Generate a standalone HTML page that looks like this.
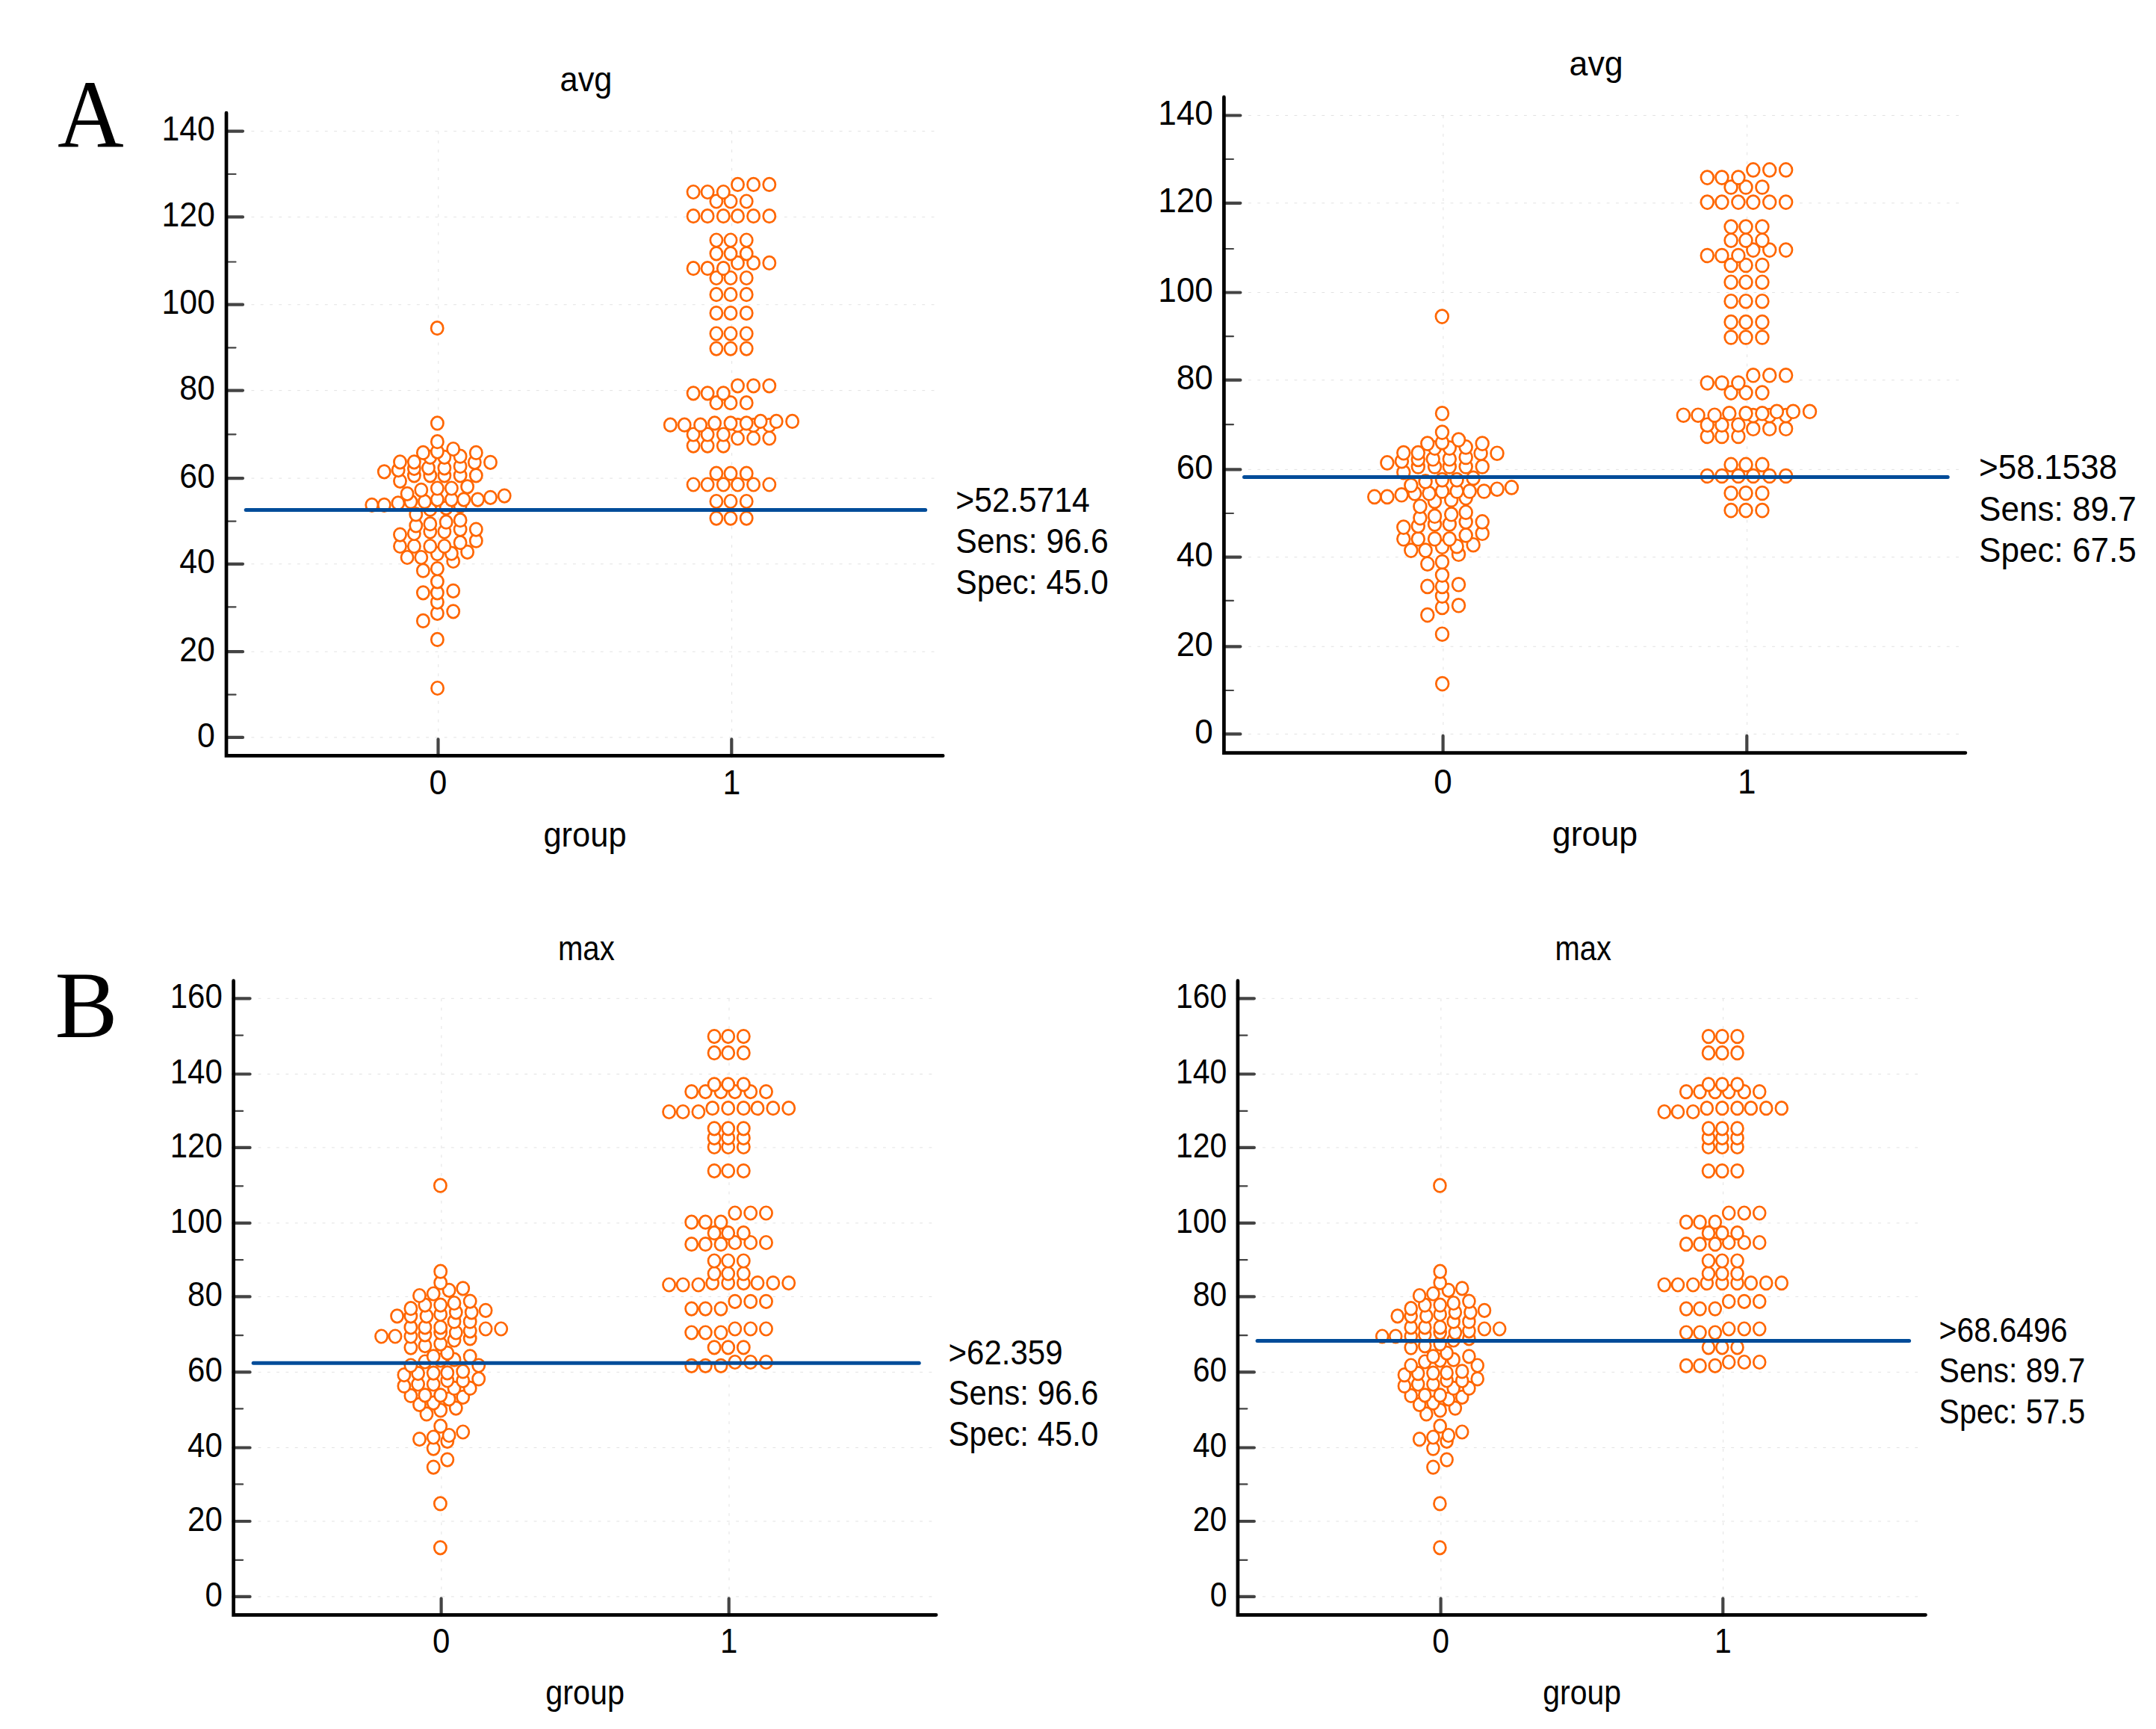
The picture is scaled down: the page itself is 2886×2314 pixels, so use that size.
<!DOCTYPE html>
<html><head><meta charset="utf-8"><title>Figure</title>
<style>html,body{margin:0;padding:0;background:#fff}svg{display:block}text{fill:#000}</style>
</head><body>
<svg width="2886" height="2314" viewBox="0 0 2886 2314">
<rect width="2886" height="2314" fill="#fff"/>
<path d="M336.5 986.9H1253.8M336.5 872.2H1253.8M336.5 754.8H1253.8M336.5 640.1H1253.8M336.5 522.6H1253.8M336.5 407.7H1253.8M336.5 290.4H1253.8M336.5 175.6H1253.8M586.8 175.6V986.9M979.6 175.6V986.9" stroke="#e0e0e0" stroke-width="0.95" stroke-dasharray="3.8 8.5" fill="none"/>
<g fill="#fff" stroke="#FF6600" stroke-width="2.7">
<ellipse cx="585.6" cy="921.0" rx="8.1" ry="8.75"/>
<ellipse cx="585.4" cy="855.9" rx="8.1" ry="8.75"/>
<ellipse cx="566.4" cy="830.9" rx="8.1" ry="8.75"/>
<ellipse cx="585.4" cy="820.8" rx="8.1" ry="8.75"/>
<ellipse cx="606.7" cy="818.3" rx="8.1" ry="8.75"/>
<ellipse cx="585.4" cy="805.8" rx="8.1" ry="8.75"/>
<ellipse cx="566.4" cy="793.3" rx="8.1" ry="8.75"/>
<ellipse cx="585.4" cy="793.3" rx="8.1" ry="8.75"/>
<ellipse cx="606.7" cy="790.8" rx="8.1" ry="8.75"/>
<ellipse cx="585.4" cy="778.3" rx="8.1" ry="8.75"/>
<ellipse cx="566.4" cy="763.7" rx="8.1" ry="8.75"/>
<ellipse cx="585.4" cy="761.1" rx="8.1" ry="8.75"/>
<ellipse cx="606.7" cy="751.0" rx="8.1" ry="8.75"/>
<ellipse cx="563.8" cy="746.0" rx="8.1" ry="8.75"/>
<ellipse cx="545.1" cy="746.0" rx="8.1" ry="8.75"/>
<ellipse cx="585.4" cy="741.2" rx="8.1" ry="8.75"/>
<ellipse cx="604.4" cy="740.7" rx="8.1" ry="8.75"/>
<ellipse cx="625.6" cy="738.8" rx="8.1" ry="8.75"/>
<ellipse cx="594.9" cy="731.0" rx="8.1" ry="8.75"/>
<ellipse cx="575.8" cy="731.0" rx="8.1" ry="8.75"/>
<ellipse cx="554.4" cy="731.0" rx="8.1" ry="8.75"/>
<ellipse cx="535.5" cy="731.0" rx="8.1" ry="8.75"/>
<ellipse cx="616.1" cy="726.2" rx="8.1" ry="8.75"/>
<ellipse cx="637.3" cy="723.7" rx="8.1" ry="8.75"/>
<ellipse cx="535.5" cy="715.6" rx="8.1" ry="8.75"/>
<ellipse cx="554.4" cy="714.0" rx="8.1" ry="8.75"/>
<ellipse cx="594.9" cy="711.5" rx="8.1" ry="8.75"/>
<ellipse cx="575.8" cy="711.5" rx="8.1" ry="8.75"/>
<ellipse cx="637.3" cy="708.6" rx="8.1" ry="8.75"/>
<ellipse cx="616.1" cy="708.6" rx="8.1" ry="8.75"/>
<ellipse cx="556.8" cy="703.4" rx="8.1" ry="8.75"/>
<ellipse cx="575.8" cy="701.2" rx="8.1" ry="8.75"/>
<ellipse cx="597.2" cy="698.7" rx="8.1" ry="8.75"/>
<ellipse cx="616.1" cy="696.2" rx="8.1" ry="8.75"/>
<ellipse cx="958.9" cy="693.6" rx="8.1" ry="8.75"/>
<ellipse cx="978.0" cy="693.6" rx="8.1" ry="8.75"/>
<ellipse cx="999.2" cy="693.6" rx="8.1" ry="8.75"/>
<ellipse cx="556.8" cy="688.4" rx="8.1" ry="8.75"/>
<ellipse cx="575.8" cy="681.7" rx="8.1" ry="8.75"/>
<ellipse cx="597.2" cy="679.8" rx="8.1" ry="8.75"/>
<ellipse cx="616.1" cy="677.2" rx="8.1" ry="8.75"/>
<ellipse cx="514.3" cy="675.8" rx="8.1" ry="8.75"/>
<ellipse cx="497.8" cy="675.8" rx="8.1" ry="8.75"/>
<ellipse cx="532.9" cy="673.3" rx="8.1" ry="8.75"/>
<ellipse cx="568.5" cy="671.4" rx="8.1" ry="8.75"/>
<ellipse cx="549.9" cy="671.4" rx="8.1" ry="8.75"/>
<ellipse cx="958.9" cy="671.0" rx="8.1" ry="8.75"/>
<ellipse cx="978.0" cy="671.0" rx="8.1" ry="8.75"/>
<ellipse cx="999.2" cy="671.0" rx="8.1" ry="8.75"/>
<ellipse cx="639.5" cy="668.6" rx="8.1" ry="8.75"/>
<ellipse cx="620.8" cy="668.6" rx="8.1" ry="8.75"/>
<ellipse cx="604.4" cy="668.6" rx="8.1" ry="8.75"/>
<ellipse cx="585.4" cy="668.6" rx="8.1" ry="8.75"/>
<ellipse cx="656.5" cy="665.8" rx="8.1" ry="8.75"/>
<ellipse cx="675.2" cy="663.6" rx="8.1" ry="8.75"/>
<ellipse cx="545.1" cy="660.8" rx="8.1" ry="8.75"/>
<ellipse cx="563.8" cy="655.8" rx="8.1" ry="8.75"/>
<ellipse cx="585.4" cy="653.5" rx="8.1" ry="8.75"/>
<ellipse cx="604.4" cy="653.5" rx="8.1" ry="8.75"/>
<ellipse cx="625.6" cy="651.3" rx="8.1" ry="8.75"/>
<ellipse cx="928.1" cy="648.5" rx="8.1" ry="8.75"/>
<ellipse cx="947.1" cy="648.5" rx="8.1" ry="8.75"/>
<ellipse cx="968.3" cy="648.5" rx="8.1" ry="8.75"/>
<ellipse cx="987.5" cy="648.5" rx="8.1" ry="8.75"/>
<ellipse cx="1008.6" cy="648.5" rx="8.1" ry="8.75"/>
<ellipse cx="1029.8" cy="648.5" rx="8.1" ry="8.75"/>
<ellipse cx="535.5" cy="643.8" rx="8.1" ry="8.75"/>
<ellipse cx="554.4" cy="636.3" rx="8.1" ry="8.75"/>
<ellipse cx="575.8" cy="636.3" rx="8.1" ry="8.75"/>
<ellipse cx="594.9" cy="636.3" rx="8.1" ry="8.75"/>
<ellipse cx="616.1" cy="636.3" rx="8.1" ry="8.75"/>
<ellipse cx="637.3" cy="636.3" rx="8.1" ry="8.75"/>
<ellipse cx="958.9" cy="633.7" rx="8.1" ry="8.75"/>
<ellipse cx="978.0" cy="633.7" rx="8.1" ry="8.75"/>
<ellipse cx="999.2" cy="633.7" rx="8.1" ry="8.75"/>
<ellipse cx="514.3" cy="631.3" rx="8.1" ry="8.75"/>
<ellipse cx="533.2" cy="629.1" rx="8.1" ry="8.75"/>
<ellipse cx="554.4" cy="626.8" rx="8.1" ry="8.75"/>
<ellipse cx="573.5" cy="626.3" rx="8.1" ry="8.75"/>
<ellipse cx="594.9" cy="626.3" rx="8.1" ry="8.75"/>
<ellipse cx="616.1" cy="624.0" rx="8.1" ry="8.75"/>
<ellipse cx="656.5" cy="618.8" rx="8.1" ry="8.75"/>
<ellipse cx="635.3" cy="618.8" rx="8.1" ry="8.75"/>
<ellipse cx="535.5" cy="618.3" rx="8.1" ry="8.75"/>
<ellipse cx="554.4" cy="618.3" rx="8.1" ry="8.75"/>
<ellipse cx="575.8" cy="611.8" rx="8.1" ry="8.75"/>
<ellipse cx="594.9" cy="611.8" rx="8.1" ry="8.75"/>
<ellipse cx="616.1" cy="610.7" rx="8.1" ry="8.75"/>
<ellipse cx="566.4" cy="605.9" rx="8.1" ry="8.75"/>
<ellipse cx="637.3" cy="605.9" rx="8.1" ry="8.75"/>
<ellipse cx="585.4" cy="604.6" rx="8.1" ry="8.75"/>
<ellipse cx="606.7" cy="601.0" rx="8.1" ry="8.75"/>
<ellipse cx="928.1" cy="596.6" rx="8.1" ry="8.75"/>
<ellipse cx="947.1" cy="596.6" rx="8.1" ry="8.75"/>
<ellipse cx="968.3" cy="596.6" rx="8.1" ry="8.75"/>
<ellipse cx="585.4" cy="591.2" rx="8.1" ry="8.75"/>
<ellipse cx="987.5" cy="586.5" rx="8.1" ry="8.75"/>
<ellipse cx="1008.6" cy="586.5" rx="8.1" ry="8.75"/>
<ellipse cx="1029.8" cy="586.5" rx="8.1" ry="8.75"/>
<ellipse cx="928.1" cy="581.5" rx="8.1" ry="8.75"/>
<ellipse cx="947.1" cy="581.5" rx="8.1" ry="8.75"/>
<ellipse cx="968.3" cy="581.5" rx="8.1" ry="8.75"/>
<ellipse cx="987.5" cy="569.2" rx="8.1" ry="8.75"/>
<ellipse cx="1008.6" cy="569.2" rx="8.1" ry="8.75"/>
<ellipse cx="1029.8" cy="569.2" rx="8.1" ry="8.75"/>
<ellipse cx="897.3" cy="568.7" rx="8.1" ry="8.75"/>
<ellipse cx="916.2" cy="568.7" rx="8.1" ry="8.75"/>
<ellipse cx="937.6" cy="568.7" rx="8.1" ry="8.75"/>
<ellipse cx="585.4" cy="566.4" rx="8.1" ry="8.75"/>
<ellipse cx="956.6" cy="566.4" rx="8.1" ry="8.75"/>
<ellipse cx="978.0" cy="566.4" rx="8.1" ry="8.75"/>
<ellipse cx="999.2" cy="566.4" rx="8.1" ry="8.75"/>
<ellipse cx="1018.1" cy="563.9" rx="8.1" ry="8.75"/>
<ellipse cx="1039.2" cy="563.9" rx="8.1" ry="8.75"/>
<ellipse cx="1060.6" cy="563.9" rx="8.1" ry="8.75"/>
<ellipse cx="958.9" cy="539.2" rx="8.1" ry="8.75"/>
<ellipse cx="978.0" cy="539.2" rx="8.1" ry="8.75"/>
<ellipse cx="999.2" cy="539.2" rx="8.1" ry="8.75"/>
<ellipse cx="928.1" cy="526.3" rx="8.1" ry="8.75"/>
<ellipse cx="947.1" cy="526.3" rx="8.1" ry="8.75"/>
<ellipse cx="968.3" cy="526.3" rx="8.1" ry="8.75"/>
<ellipse cx="987.5" cy="516.3" rx="8.1" ry="8.75"/>
<ellipse cx="1008.6" cy="516.3" rx="8.1" ry="8.75"/>
<ellipse cx="1029.8" cy="516.3" rx="8.1" ry="8.75"/>
<ellipse cx="958.9" cy="466.6" rx="8.1" ry="8.75"/>
<ellipse cx="978.0" cy="466.6" rx="8.1" ry="8.75"/>
<ellipse cx="999.2" cy="466.6" rx="8.1" ry="8.75"/>
<ellipse cx="958.9" cy="446.5" rx="8.1" ry="8.75"/>
<ellipse cx="978.0" cy="446.5" rx="8.1" ry="8.75"/>
<ellipse cx="999.2" cy="446.5" rx="8.1" ry="8.75"/>
<ellipse cx="585.2" cy="439.2" rx="8.1" ry="8.75"/>
<ellipse cx="958.9" cy="419.1" rx="8.1" ry="8.75"/>
<ellipse cx="978.0" cy="419.1" rx="8.1" ry="8.75"/>
<ellipse cx="999.2" cy="419.1" rx="8.1" ry="8.75"/>
<ellipse cx="958.9" cy="394.2" rx="8.1" ry="8.75"/>
<ellipse cx="978.0" cy="394.2" rx="8.1" ry="8.75"/>
<ellipse cx="999.2" cy="394.2" rx="8.1" ry="8.75"/>
<ellipse cx="958.9" cy="372.0" rx="8.1" ry="8.75"/>
<ellipse cx="978.0" cy="372.0" rx="8.1" ry="8.75"/>
<ellipse cx="999.2" cy="372.0" rx="8.1" ry="8.75"/>
<ellipse cx="928.1" cy="359.2" rx="8.1" ry="8.75"/>
<ellipse cx="947.1" cy="359.2" rx="8.1" ry="8.75"/>
<ellipse cx="968.3" cy="359.2" rx="8.1" ry="8.75"/>
<ellipse cx="987.5" cy="351.9" rx="8.1" ry="8.75"/>
<ellipse cx="1008.6" cy="351.9" rx="8.1" ry="8.75"/>
<ellipse cx="1029.8" cy="351.9" rx="8.1" ry="8.75"/>
<ellipse cx="958.9" cy="339.3" rx="8.1" ry="8.75"/>
<ellipse cx="978.0" cy="339.3" rx="8.1" ry="8.75"/>
<ellipse cx="999.2" cy="339.3" rx="8.1" ry="8.75"/>
<ellipse cx="958.9" cy="321.5" rx="8.1" ry="8.75"/>
<ellipse cx="978.0" cy="321.5" rx="8.1" ry="8.75"/>
<ellipse cx="999.2" cy="321.5" rx="8.1" ry="8.75"/>
<ellipse cx="928.1" cy="289.2" rx="8.1" ry="8.75"/>
<ellipse cx="947.1" cy="289.2" rx="8.1" ry="8.75"/>
<ellipse cx="968.3" cy="289.2" rx="8.1" ry="8.75"/>
<ellipse cx="987.5" cy="289.2" rx="8.1" ry="8.75"/>
<ellipse cx="1008.6" cy="289.2" rx="8.1" ry="8.75"/>
<ellipse cx="1029.8" cy="289.2" rx="8.1" ry="8.75"/>
<ellipse cx="958.9" cy="269.5" rx="8.1" ry="8.75"/>
<ellipse cx="978.0" cy="269.5" rx="8.1" ry="8.75"/>
<ellipse cx="999.2" cy="269.5" rx="8.1" ry="8.75"/>
<ellipse cx="928.1" cy="257.0" rx="8.1" ry="8.75"/>
<ellipse cx="947.1" cy="257.0" rx="8.1" ry="8.75"/>
<ellipse cx="968.3" cy="257.0" rx="8.1" ry="8.75"/>
<ellipse cx="987.5" cy="246.9" rx="8.1" ry="8.75"/>
<ellipse cx="1008.6" cy="246.9" rx="8.1" ry="8.75"/>
<ellipse cx="1029.8" cy="246.9" rx="8.1" ry="8.75"/>
</g>
<path d="M303.0 929.7h12.5M303.0 812.3h12.5M303.0 697.6h12.5M303.0 581.3h12.5M303.0 465.3h12.5M303.0 350.5h12.5M303.0 233.0h12.5" stroke="#444444" stroke-width="2.2" stroke-linecap="round" fill="none"/>
<path d="M303.0 986.9h22M303.0 872.2h22M303.0 754.8h22M303.0 640.1h22M303.0 522.6h22M303.0 407.7h22M303.0 290.4h22M303.0 175.6h22M586.5 1011.4V989.3M979.3 1011.4V989.3" stroke="#444444" stroke-width="4.2" stroke-linecap="round" fill="none"/>
<path d="M303.0 151.1V1011.4H1262.2" stroke="#000" stroke-width="4.7" stroke-linecap="round" stroke-linejoin="miter" fill="none"/>
<path d="M329.2 682.5H1238.7" stroke="#004C99" stroke-width="5" stroke-linecap="round" fill="none"/>
<text transform="translate(287.8 999.5) scale(1.0000 1.0850)" font-size="42.8" text-anchor="end" font-family="Liberation Sans, sans-serif">0</text>
<text transform="translate(287.8 884.8) scale(1.0000 1.0850)" font-size="42.8" text-anchor="end" font-family="Liberation Sans, sans-serif">20</text>
<text transform="translate(287.8 767.4) scale(1.0000 1.0850)" font-size="42.8" text-anchor="end" font-family="Liberation Sans, sans-serif">40</text>
<text transform="translate(287.8 652.7) scale(1.0000 1.0850)" font-size="42.8" text-anchor="end" font-family="Liberation Sans, sans-serif">60</text>
<text transform="translate(287.8 535.2) scale(1.0000 1.0850)" font-size="42.8" text-anchor="end" font-family="Liberation Sans, sans-serif">80</text>
<text transform="translate(287.8 420.3) scale(1.0000 1.0850)" font-size="42.8" text-anchor="end" font-family="Liberation Sans, sans-serif">100</text>
<text transform="translate(287.8 303.0) scale(1.0000 1.0850)" font-size="42.8" text-anchor="end" font-family="Liberation Sans, sans-serif">120</text>
<text transform="translate(287.8 188.2) scale(1.0000 1.0850)" font-size="42.8" text-anchor="end" font-family="Liberation Sans, sans-serif">140</text>
<text transform="translate(586.5 1063.4) scale(1.0000 1.0850)" font-size="42.8" text-anchor="middle" font-family="Liberation Sans, sans-serif">0</text>
<text transform="translate(979.3 1063.4) scale(1.0000 1.0850)" font-size="42.8" text-anchor="middle" font-family="Liberation Sans, sans-serif">1</text>
<text transform="translate(783.0 1132.8) scale(1.0150 1.0850)" font-size="42.8" text-anchor="middle" font-family="Liberation Sans, sans-serif">group</text>
<text transform="translate(784.5 122.0) scale(1.0150 1.0850)" font-size="42.8" text-anchor="middle" font-family="Liberation Sans, sans-serif">avg</text>
<text transform="translate(1279.2 684.9) scale(1.0000 1.0850)" font-size="42.8" text-anchor="start" font-family="Liberation Sans, sans-serif">&gt;52.5714</text>
<text transform="translate(1279.2 740.0) scale(1.0000 1.0850)" font-size="42.8" text-anchor="start" font-family="Liberation Sans, sans-serif">Sens: 96.6</text>
<text transform="translate(1279.2 794.9) scale(1.0000 1.0850)" font-size="42.8" text-anchor="start" font-family="Liberation Sans, sans-serif">Spec: 45.0</text>
<path d="M1671.0 982.4H2626.0M1671.0 865.3H2626.0M1671.0 745.6H2626.0M1671.0 628.4H2626.0M1671.0 508.7H2626.0M1671.0 391.5H2626.0M1671.0 271.8H2626.0M1671.0 154.5H2626.0M1931.9 154.5V982.4M2338.6 154.5V982.4" stroke="#e0e0e0" stroke-width="0.95" stroke-dasharray="3.8 8.5" fill="none"/>
<g fill="#fff" stroke="#FF6600" stroke-width="2.7">
<ellipse cx="1930.7" cy="915.1" rx="8.4" ry="8.95"/>
<ellipse cx="1930.5" cy="848.7" rx="8.4" ry="8.95"/>
<ellipse cx="1910.8" cy="823.1" rx="8.4" ry="8.95"/>
<ellipse cx="1930.5" cy="812.9" rx="8.4" ry="8.95"/>
<ellipse cx="1952.5" cy="810.3" rx="8.4" ry="8.95"/>
<ellipse cx="1930.5" cy="797.6" rx="8.4" ry="8.95"/>
<ellipse cx="1910.8" cy="784.9" rx="8.4" ry="8.95"/>
<ellipse cx="1930.5" cy="784.9" rx="8.4" ry="8.95"/>
<ellipse cx="1952.5" cy="782.3" rx="8.4" ry="8.95"/>
<ellipse cx="1930.5" cy="769.6" rx="8.4" ry="8.95"/>
<ellipse cx="1910.8" cy="754.7" rx="8.4" ry="8.95"/>
<ellipse cx="1930.5" cy="752.0" rx="8.4" ry="8.95"/>
<ellipse cx="1952.5" cy="741.8" rx="8.4" ry="8.95"/>
<ellipse cx="1908.1" cy="736.6" rx="8.4" ry="8.95"/>
<ellipse cx="1888.8" cy="736.6" rx="8.4" ry="8.95"/>
<ellipse cx="1930.5" cy="731.8" rx="8.4" ry="8.95"/>
<ellipse cx="1950.1" cy="731.2" rx="8.4" ry="8.95"/>
<ellipse cx="1972.1" cy="729.2" rx="8.4" ry="8.95"/>
<ellipse cx="1940.3" cy="721.3" rx="8.4" ry="8.95"/>
<ellipse cx="1920.5" cy="721.3" rx="8.4" ry="8.95"/>
<ellipse cx="1898.3" cy="721.3" rx="8.4" ry="8.95"/>
<ellipse cx="1878.8" cy="721.3" rx="8.4" ry="8.95"/>
<ellipse cx="1962.2" cy="716.4" rx="8.4" ry="8.95"/>
<ellipse cx="1984.2" cy="713.8" rx="8.4" ry="8.95"/>
<ellipse cx="1878.8" cy="705.6" rx="8.4" ry="8.95"/>
<ellipse cx="1898.3" cy="703.9" rx="8.4" ry="8.95"/>
<ellipse cx="1940.3" cy="701.4" rx="8.4" ry="8.95"/>
<ellipse cx="1920.5" cy="701.4" rx="8.4" ry="8.95"/>
<ellipse cx="1984.2" cy="698.4" rx="8.4" ry="8.95"/>
<ellipse cx="1962.2" cy="698.4" rx="8.4" ry="8.95"/>
<ellipse cx="1900.9" cy="693.1" rx="8.4" ry="8.95"/>
<ellipse cx="1920.5" cy="690.8" rx="8.4" ry="8.95"/>
<ellipse cx="1942.7" cy="688.3" rx="8.4" ry="8.95"/>
<ellipse cx="1962.2" cy="685.7" rx="8.4" ry="8.95"/>
<ellipse cx="2317.1" cy="683.1" rx="8.4" ry="8.95"/>
<ellipse cx="2337.0" cy="683.1" rx="8.4" ry="8.95"/>
<ellipse cx="2358.9" cy="683.1" rx="8.4" ry="8.95"/>
<ellipse cx="1900.9" cy="677.7" rx="8.4" ry="8.95"/>
<ellipse cx="1920.5" cy="670.9" rx="8.4" ry="8.95"/>
<ellipse cx="1942.7" cy="669.0" rx="8.4" ry="8.95"/>
<ellipse cx="1962.2" cy="666.3" rx="8.4" ry="8.95"/>
<ellipse cx="1856.9" cy="664.9" rx="8.4" ry="8.95"/>
<ellipse cx="1839.8" cy="664.9" rx="8.4" ry="8.95"/>
<ellipse cx="1876.1" cy="662.3" rx="8.4" ry="8.95"/>
<ellipse cx="1913.0" cy="660.3" rx="8.4" ry="8.95"/>
<ellipse cx="1893.7" cy="660.3" rx="8.4" ry="8.95"/>
<ellipse cx="2317.1" cy="660.0" rx="8.4" ry="8.95"/>
<ellipse cx="2337.0" cy="660.0" rx="8.4" ry="8.95"/>
<ellipse cx="2358.9" cy="660.0" rx="8.4" ry="8.95"/>
<ellipse cx="1986.5" cy="657.5" rx="8.4" ry="8.95"/>
<ellipse cx="1967.2" cy="657.5" rx="8.4" ry="8.95"/>
<ellipse cx="1950.1" cy="657.5" rx="8.4" ry="8.95"/>
<ellipse cx="1930.5" cy="657.5" rx="8.4" ry="8.95"/>
<ellipse cx="2004.0" cy="654.7" rx="8.4" ry="8.95"/>
<ellipse cx="2023.4" cy="652.4" rx="8.4" ry="8.95"/>
<ellipse cx="1888.8" cy="649.5" rx="8.4" ry="8.95"/>
<ellipse cx="1908.1" cy="644.4" rx="8.4" ry="8.95"/>
<ellipse cx="1930.5" cy="642.1" rx="8.4" ry="8.95"/>
<ellipse cx="1950.1" cy="642.1" rx="8.4" ry="8.95"/>
<ellipse cx="1972.1" cy="639.9" rx="8.4" ry="8.95"/>
<ellipse cx="2285.3" cy="637.0" rx="8.4" ry="8.95"/>
<ellipse cx="2304.9" cy="637.0" rx="8.4" ry="8.95"/>
<ellipse cx="2326.9" cy="637.0" rx="8.4" ry="8.95"/>
<ellipse cx="2346.8" cy="637.0" rx="8.4" ry="8.95"/>
<ellipse cx="2368.7" cy="637.0" rx="8.4" ry="8.95"/>
<ellipse cx="2390.6" cy="637.0" rx="8.4" ry="8.95"/>
<ellipse cx="1878.8" cy="632.1" rx="8.4" ry="8.95"/>
<ellipse cx="1898.3" cy="624.5" rx="8.4" ry="8.95"/>
<ellipse cx="1920.5" cy="624.5" rx="8.4" ry="8.95"/>
<ellipse cx="1940.3" cy="624.5" rx="8.4" ry="8.95"/>
<ellipse cx="1962.2" cy="624.5" rx="8.4" ry="8.95"/>
<ellipse cx="1984.2" cy="624.5" rx="8.4" ry="8.95"/>
<ellipse cx="2317.1" cy="621.9" rx="8.4" ry="8.95"/>
<ellipse cx="2337.0" cy="621.9" rx="8.4" ry="8.95"/>
<ellipse cx="2358.9" cy="621.9" rx="8.4" ry="8.95"/>
<ellipse cx="1856.9" cy="619.4" rx="8.4" ry="8.95"/>
<ellipse cx="1876.4" cy="617.2" rx="8.4" ry="8.95"/>
<ellipse cx="1898.3" cy="614.9" rx="8.4" ry="8.95"/>
<ellipse cx="1918.2" cy="614.3" rx="8.4" ry="8.95"/>
<ellipse cx="1940.3" cy="614.3" rx="8.4" ry="8.95"/>
<ellipse cx="1962.2" cy="612.0" rx="8.4" ry="8.95"/>
<ellipse cx="2004.0" cy="606.7" rx="8.4" ry="8.95"/>
<ellipse cx="1982.1" cy="606.7" rx="8.4" ry="8.95"/>
<ellipse cx="1878.8" cy="606.1" rx="8.4" ry="8.95"/>
<ellipse cx="1898.3" cy="606.1" rx="8.4" ry="8.95"/>
<ellipse cx="1920.5" cy="599.6" rx="8.4" ry="8.95"/>
<ellipse cx="1940.3" cy="599.6" rx="8.4" ry="8.95"/>
<ellipse cx="1962.2" cy="598.4" rx="8.4" ry="8.95"/>
<ellipse cx="1910.8" cy="593.6" rx="8.4" ry="8.95"/>
<ellipse cx="1984.2" cy="593.6" rx="8.4" ry="8.95"/>
<ellipse cx="1930.5" cy="592.2" rx="8.4" ry="8.95"/>
<ellipse cx="1952.5" cy="588.6" rx="8.4" ry="8.95"/>
<ellipse cx="2285.3" cy="584.0" rx="8.4" ry="8.95"/>
<ellipse cx="2304.9" cy="584.0" rx="8.4" ry="8.95"/>
<ellipse cx="2326.9" cy="584.0" rx="8.4" ry="8.95"/>
<ellipse cx="1930.5" cy="578.6" rx="8.4" ry="8.95"/>
<ellipse cx="2346.8" cy="573.8" rx="8.4" ry="8.95"/>
<ellipse cx="2368.7" cy="573.8" rx="8.4" ry="8.95"/>
<ellipse cx="2390.6" cy="573.8" rx="8.4" ry="8.95"/>
<ellipse cx="2285.3" cy="568.7" rx="8.4" ry="8.95"/>
<ellipse cx="2304.9" cy="568.7" rx="8.4" ry="8.95"/>
<ellipse cx="2326.9" cy="568.7" rx="8.4" ry="8.95"/>
<ellipse cx="2346.8" cy="556.1" rx="8.4" ry="8.95"/>
<ellipse cx="2368.7" cy="556.1" rx="8.4" ry="8.95"/>
<ellipse cx="2390.6" cy="556.1" rx="8.4" ry="8.95"/>
<ellipse cx="2253.4" cy="555.7" rx="8.4" ry="8.95"/>
<ellipse cx="2273.0" cy="555.7" rx="8.4" ry="8.95"/>
<ellipse cx="2295.1" cy="555.7" rx="8.4" ry="8.95"/>
<ellipse cx="1930.5" cy="553.3" rx="8.4" ry="8.95"/>
<ellipse cx="2314.8" cy="553.3" rx="8.4" ry="8.95"/>
<ellipse cx="2337.0" cy="553.3" rx="8.4" ry="8.95"/>
<ellipse cx="2358.9" cy="553.3" rx="8.4" ry="8.95"/>
<ellipse cx="2378.4" cy="550.8" rx="8.4" ry="8.95"/>
<ellipse cx="2400.3" cy="550.8" rx="8.4" ry="8.95"/>
<ellipse cx="2422.5" cy="550.8" rx="8.4" ry="8.95"/>
<ellipse cx="2317.1" cy="525.6" rx="8.4" ry="8.95"/>
<ellipse cx="2337.0" cy="525.6" rx="8.4" ry="8.95"/>
<ellipse cx="2358.9" cy="525.6" rx="8.4" ry="8.95"/>
<ellipse cx="2285.3" cy="512.5" rx="8.4" ry="8.95"/>
<ellipse cx="2304.9" cy="512.5" rx="8.4" ry="8.95"/>
<ellipse cx="2326.9" cy="512.5" rx="8.4" ry="8.95"/>
<ellipse cx="2346.8" cy="502.3" rx="8.4" ry="8.95"/>
<ellipse cx="2368.7" cy="502.3" rx="8.4" ry="8.95"/>
<ellipse cx="2390.6" cy="502.3" rx="8.4" ry="8.95"/>
<ellipse cx="2317.1" cy="451.5" rx="8.4" ry="8.95"/>
<ellipse cx="2337.0" cy="451.5" rx="8.4" ry="8.95"/>
<ellipse cx="2358.9" cy="451.5" rx="8.4" ry="8.95"/>
<ellipse cx="2317.1" cy="431.1" rx="8.4" ry="8.95"/>
<ellipse cx="2337.0" cy="431.1" rx="8.4" ry="8.95"/>
<ellipse cx="2358.9" cy="431.1" rx="8.4" ry="8.95"/>
<ellipse cx="1930.3" cy="423.6" rx="8.4" ry="8.95"/>
<ellipse cx="2317.1" cy="403.2" rx="8.4" ry="8.95"/>
<ellipse cx="2337.0" cy="403.2" rx="8.4" ry="8.95"/>
<ellipse cx="2358.9" cy="403.2" rx="8.4" ry="8.95"/>
<ellipse cx="2317.1" cy="377.7" rx="8.4" ry="8.95"/>
<ellipse cx="2337.0" cy="377.7" rx="8.4" ry="8.95"/>
<ellipse cx="2358.9" cy="377.7" rx="8.4" ry="8.95"/>
<ellipse cx="2317.1" cy="355.0" rx="8.4" ry="8.95"/>
<ellipse cx="2337.0" cy="355.0" rx="8.4" ry="8.95"/>
<ellipse cx="2358.9" cy="355.0" rx="8.4" ry="8.95"/>
<ellipse cx="2285.3" cy="342.0" rx="8.4" ry="8.95"/>
<ellipse cx="2304.9" cy="342.0" rx="8.4" ry="8.95"/>
<ellipse cx="2326.9" cy="342.0" rx="8.4" ry="8.95"/>
<ellipse cx="2346.8" cy="334.6" rx="8.4" ry="8.95"/>
<ellipse cx="2368.7" cy="334.6" rx="8.4" ry="8.95"/>
<ellipse cx="2390.6" cy="334.6" rx="8.4" ry="8.95"/>
<ellipse cx="2317.1" cy="321.7" rx="8.4" ry="8.95"/>
<ellipse cx="2337.0" cy="321.7" rx="8.4" ry="8.95"/>
<ellipse cx="2358.9" cy="321.7" rx="8.4" ry="8.95"/>
<ellipse cx="2317.1" cy="303.6" rx="8.4" ry="8.95"/>
<ellipse cx="2337.0" cy="303.6" rx="8.4" ry="8.95"/>
<ellipse cx="2358.9" cy="303.6" rx="8.4" ry="8.95"/>
<ellipse cx="2285.3" cy="270.6" rx="8.4" ry="8.95"/>
<ellipse cx="2304.9" cy="270.6" rx="8.4" ry="8.95"/>
<ellipse cx="2326.9" cy="270.6" rx="8.4" ry="8.95"/>
<ellipse cx="2346.8" cy="270.6" rx="8.4" ry="8.95"/>
<ellipse cx="2368.7" cy="270.6" rx="8.4" ry="8.95"/>
<ellipse cx="2390.6" cy="270.6" rx="8.4" ry="8.95"/>
<ellipse cx="2317.1" cy="250.5" rx="8.4" ry="8.95"/>
<ellipse cx="2337.0" cy="250.5" rx="8.4" ry="8.95"/>
<ellipse cx="2358.9" cy="250.5" rx="8.4" ry="8.95"/>
<ellipse cx="2285.3" cy="237.6" rx="8.4" ry="8.95"/>
<ellipse cx="2304.9" cy="237.6" rx="8.4" ry="8.95"/>
<ellipse cx="2326.9" cy="237.6" rx="8.4" ry="8.95"/>
<ellipse cx="2346.8" cy="227.4" rx="8.4" ry="8.95"/>
<ellipse cx="2368.7" cy="227.4" rx="8.4" ry="8.95"/>
<ellipse cx="2390.6" cy="227.4" rx="8.4" ry="8.95"/>
</g>
<path d="M1638.4 924.0h12.5M1638.4 803.9h12.5M1638.4 687.0h12.5M1638.4 568.2h12.5M1638.4 450.2h12.5M1638.4 333.0h12.5M1638.4 213.0h12.5" stroke="#444444" stroke-width="2.2" stroke-linecap="round" fill="none"/>
<path d="M1638.4 982.4h22M1638.4 865.3h22M1638.4 745.6h22M1638.4 628.4h22M1638.4 508.7h22M1638.4 391.5h22M1638.4 271.8h22M1638.4 154.5h22M1931.6 1007.6V984.8M2338.3 1007.6V984.8" stroke="#444444" stroke-width="4.2" stroke-linecap="round" fill="none"/>
<path d="M1638.4 129.9V1007.6H2630.9" stroke="#000" stroke-width="4.7" stroke-linecap="round" stroke-linejoin="miter" fill="none"/>
<path d="M1665.5 638.6H2607.2" stroke="#004C99" stroke-width="5" stroke-linecap="round" fill="none"/>
<text transform="translate(1623.7 995.0) scale(1.0300 1.0850)" font-size="42.8" text-anchor="end" font-family="Liberation Sans, sans-serif">0</text>
<text transform="translate(1623.7 877.9) scale(1.0300 1.0850)" font-size="42.8" text-anchor="end" font-family="Liberation Sans, sans-serif">20</text>
<text transform="translate(1623.7 758.2) scale(1.0300 1.0850)" font-size="42.8" text-anchor="end" font-family="Liberation Sans, sans-serif">40</text>
<text transform="translate(1623.7 641.0) scale(1.0300 1.0850)" font-size="42.8" text-anchor="end" font-family="Liberation Sans, sans-serif">60</text>
<text transform="translate(1623.7 521.3) scale(1.0300 1.0850)" font-size="42.8" text-anchor="end" font-family="Liberation Sans, sans-serif">80</text>
<text transform="translate(1623.7 404.1) scale(1.0300 1.0850)" font-size="42.8" text-anchor="end" font-family="Liberation Sans, sans-serif">100</text>
<text transform="translate(1623.7 284.4) scale(1.0300 1.0850)" font-size="42.8" text-anchor="end" font-family="Liberation Sans, sans-serif">120</text>
<text transform="translate(1623.7 167.1) scale(1.0300 1.0850)" font-size="42.8" text-anchor="end" font-family="Liberation Sans, sans-serif">140</text>
<text transform="translate(1931.6 1061.7) scale(1.0300 1.0850)" font-size="42.8" text-anchor="middle" font-family="Liberation Sans, sans-serif">0</text>
<text transform="translate(2338.3 1061.7) scale(1.0300 1.0850)" font-size="42.8" text-anchor="middle" font-family="Liberation Sans, sans-serif">1</text>
<text transform="translate(2135.0 1131.8) scale(1.0454 1.0850)" font-size="42.8" text-anchor="middle" font-family="Liberation Sans, sans-serif">group</text>
<text transform="translate(2136.6 101.2) scale(1.0454 1.0850)" font-size="42.8" text-anchor="middle" font-family="Liberation Sans, sans-serif">avg</text>
<text transform="translate(2649.0 640.6) scale(1.0300 1.0850)" font-size="42.8" text-anchor="start" font-family="Liberation Sans, sans-serif">&gt;58.1538</text>
<text transform="translate(2649.0 696.5) scale(1.0300 1.0850)" font-size="42.8" text-anchor="start" font-family="Liberation Sans, sans-serif">Sens: 89.7</text>
<text transform="translate(2649.0 751.9) scale(1.0300 1.0850)" font-size="42.8" text-anchor="start" font-family="Liberation Sans, sans-serif">Spec: 67.5</text>
<path d="M345.6 2136.9H1250.8M345.6 2036.0H1250.8M345.6 1937.5H1250.8M345.6 1836.4H1250.8M345.6 1735.4H1250.8M345.6 1636.9H1250.8M345.6 1535.9H1250.8M345.6 1437.5H1250.8M345.6 1336.3H1250.8M590.9 1336.3V2136.9M976.0 1336.3V2136.9" stroke="#e0e0e0" stroke-width="0.95" stroke-dasharray="3.8 8.5" fill="none"/>
<g fill="#fff" stroke="#FF6600" stroke-width="2.7">
<ellipse cx="589.4" cy="2071.3" rx="8.1" ry="8.75"/>
<ellipse cx="589.4" cy="2012.4" rx="8.1" ry="8.75"/>
<ellipse cx="580.2" cy="1963.6" rx="8.1" ry="8.75"/>
<ellipse cx="598.8" cy="1953.6" rx="8.1" ry="8.75"/>
<ellipse cx="580.2" cy="1938.6" rx="8.1" ry="8.75"/>
<ellipse cx="598.8" cy="1928.8" rx="8.1" ry="8.75"/>
<ellipse cx="561.5" cy="1926.1" rx="8.1" ry="8.75"/>
<ellipse cx="580.2" cy="1923.5" rx="8.1" ry="8.75"/>
<ellipse cx="601.1" cy="1921.0" rx="8.1" ry="8.75"/>
<ellipse cx="619.7" cy="1916.5" rx="8.1" ry="8.75"/>
<ellipse cx="589.7" cy="1908.7" rx="8.1" ry="8.75"/>
<ellipse cx="571.0" cy="1892.4" rx="8.1" ry="8.75"/>
<ellipse cx="589.7" cy="1887.4" rx="8.1" ry="8.75"/>
<ellipse cx="610.3" cy="1884.6" rx="8.1" ry="8.75"/>
<ellipse cx="561.5" cy="1879.8" rx="8.1" ry="8.75"/>
<ellipse cx="580.2" cy="1877.6" rx="8.1" ry="8.75"/>
<ellipse cx="601.1" cy="1872.3" rx="8.1" ry="8.75"/>
<ellipse cx="619.7" cy="1869.8" rx="8.1" ry="8.75"/>
<ellipse cx="549.9" cy="1867.9" rx="8.1" ry="8.75"/>
<ellipse cx="589.7" cy="1867.3" rx="8.1" ry="8.75"/>
<ellipse cx="568.9" cy="1867.3" rx="8.1" ry="8.75"/>
<ellipse cx="629.2" cy="1857.9" rx="8.1" ry="8.75"/>
<ellipse cx="608.0" cy="1857.9" rx="8.1" ry="8.75"/>
<ellipse cx="540.9" cy="1854.9" rx="8.1" ry="8.75"/>
<ellipse cx="580.2" cy="1852.5" rx="8.1" ry="8.75"/>
<ellipse cx="559.6" cy="1852.5" rx="8.1" ry="8.75"/>
<ellipse cx="619.7" cy="1847.8" rx="8.1" ry="8.75"/>
<ellipse cx="598.8" cy="1847.5" rx="8.1" ry="8.75"/>
<ellipse cx="640.7" cy="1845.4" rx="8.1" ry="8.75"/>
<ellipse cx="540.9" cy="1840.1" rx="8.1" ry="8.75"/>
<ellipse cx="559.6" cy="1838.1" rx="8.1" ry="8.75"/>
<ellipse cx="580.2" cy="1837.6" rx="8.1" ry="8.75"/>
<ellipse cx="598.8" cy="1837.3" rx="8.1" ry="8.75"/>
<ellipse cx="619.7" cy="1835.4" rx="8.1" ry="8.75"/>
<ellipse cx="925.7" cy="1827.8" rx="8.1" ry="8.75"/>
<ellipse cx="944.3" cy="1827.8" rx="8.1" ry="8.75"/>
<ellipse cx="965.0" cy="1827.8" rx="8.1" ry="8.75"/>
<ellipse cx="549.9" cy="1827.5" rx="8.1" ry="8.75"/>
<ellipse cx="640.7" cy="1827.5" rx="8.1" ry="8.75"/>
<ellipse cx="983.8" cy="1823.0" rx="8.1" ry="8.75"/>
<ellipse cx="1004.7" cy="1823.0" rx="8.1" ry="8.75"/>
<ellipse cx="1025.5" cy="1823.0" rx="8.1" ry="8.75"/>
<ellipse cx="568.9" cy="1822.5" rx="8.1" ry="8.75"/>
<ellipse cx="589.7" cy="1820.5" rx="8.1" ry="8.75"/>
<ellipse cx="608.0" cy="1819.7" rx="8.1" ry="8.75"/>
<ellipse cx="580.2" cy="1815.3" rx="8.1" ry="8.75"/>
<ellipse cx="629.2" cy="1815.3" rx="8.1" ry="8.75"/>
<ellipse cx="598.8" cy="1810.8" rx="8.1" ry="8.75"/>
<ellipse cx="549.9" cy="1803.6" rx="8.1" ry="8.75"/>
<ellipse cx="956.1" cy="1803.3" rx="8.1" ry="8.75"/>
<ellipse cx="974.7" cy="1803.3" rx="8.1" ry="8.75"/>
<ellipse cx="995.3" cy="1803.3" rx="8.1" ry="8.75"/>
<ellipse cx="568.9" cy="1801.1" rx="8.1" ry="8.75"/>
<ellipse cx="589.7" cy="1798.6" rx="8.1" ry="8.75"/>
<ellipse cx="608.0" cy="1793.5" rx="8.1" ry="8.75"/>
<ellipse cx="629.2" cy="1791.3" rx="8.1" ry="8.75"/>
<ellipse cx="549.9" cy="1788.5" rx="8.1" ry="8.75"/>
<ellipse cx="529.0" cy="1788.5" rx="8.1" ry="8.75"/>
<ellipse cx="510.6" cy="1788.5" rx="8.1" ry="8.75"/>
<ellipse cx="568.9" cy="1786.3" rx="8.1" ry="8.75"/>
<ellipse cx="610.3" cy="1783.5" rx="8.1" ry="8.75"/>
<ellipse cx="589.7" cy="1783.5" rx="8.1" ry="8.75"/>
<ellipse cx="925.7" cy="1783.5" rx="8.1" ry="8.75"/>
<ellipse cx="944.3" cy="1783.5" rx="8.1" ry="8.75"/>
<ellipse cx="965.0" cy="1783.5" rx="8.1" ry="8.75"/>
<ellipse cx="629.2" cy="1781.3" rx="8.1" ry="8.75"/>
<ellipse cx="650.1" cy="1778.5" rx="8.1" ry="8.75"/>
<ellipse cx="670.7" cy="1778.5" rx="8.1" ry="8.75"/>
<ellipse cx="983.8" cy="1778.5" rx="8.1" ry="8.75"/>
<ellipse cx="1004.7" cy="1778.5" rx="8.1" ry="8.75"/>
<ellipse cx="1025.5" cy="1778.5" rx="8.1" ry="8.75"/>
<ellipse cx="589.7" cy="1776.3" rx="8.1" ry="8.75"/>
<ellipse cx="568.9" cy="1776.3" rx="8.1" ry="8.75"/>
<ellipse cx="549.9" cy="1776.3" rx="8.1" ry="8.75"/>
<ellipse cx="608.0" cy="1768.7" rx="8.1" ry="8.75"/>
<ellipse cx="629.2" cy="1768.7" rx="8.1" ry="8.75"/>
<ellipse cx="571.0" cy="1761.3" rx="8.1" ry="8.75"/>
<ellipse cx="549.9" cy="1761.3" rx="8.1" ry="8.75"/>
<ellipse cx="531.6" cy="1761.3" rx="8.1" ry="8.75"/>
<ellipse cx="589.7" cy="1759.0" rx="8.1" ry="8.75"/>
<ellipse cx="631.2" cy="1756.3" rx="8.1" ry="8.75"/>
<ellipse cx="610.3" cy="1756.3" rx="8.1" ry="8.75"/>
<ellipse cx="650.1" cy="1753.8" rx="8.1" ry="8.75"/>
<ellipse cx="925.7" cy="1751.6" rx="8.1" ry="8.75"/>
<ellipse cx="944.3" cy="1751.6" rx="8.1" ry="8.75"/>
<ellipse cx="965.0" cy="1751.6" rx="8.1" ry="8.75"/>
<ellipse cx="549.9" cy="1751.2" rx="8.1" ry="8.75"/>
<ellipse cx="589.7" cy="1746.6" rx="8.1" ry="8.75"/>
<ellipse cx="568.9" cy="1746.6" rx="8.1" ry="8.75"/>
<ellipse cx="608.0" cy="1744.0" rx="8.1" ry="8.75"/>
<ellipse cx="983.8" cy="1741.8" rx="8.1" ry="8.75"/>
<ellipse cx="1004.7" cy="1741.8" rx="8.1" ry="8.75"/>
<ellipse cx="1025.5" cy="1741.8" rx="8.1" ry="8.75"/>
<ellipse cx="629.2" cy="1741.6" rx="8.1" ry="8.75"/>
<ellipse cx="561.5" cy="1734.0" rx="8.1" ry="8.75"/>
<ellipse cx="580.2" cy="1731.5" rx="8.1" ry="8.75"/>
<ellipse cx="601.1" cy="1726.8" rx="8.1" ry="8.75"/>
<ellipse cx="619.7" cy="1724.3" rx="8.1" ry="8.75"/>
<ellipse cx="895.6" cy="1719.5" rx="8.1" ry="8.75"/>
<ellipse cx="914.2" cy="1719.5" rx="8.1" ry="8.75"/>
<ellipse cx="934.9" cy="1719.5" rx="8.1" ry="8.75"/>
<ellipse cx="953.7" cy="1717.1" rx="8.1" ry="8.75"/>
<ellipse cx="974.7" cy="1717.1" rx="8.1" ry="8.75"/>
<ellipse cx="995.3" cy="1717.1" rx="8.1" ry="8.75"/>
<ellipse cx="1014.0" cy="1717.1" rx="8.1" ry="8.75"/>
<ellipse cx="1034.8" cy="1717.1" rx="8.1" ry="8.75"/>
<ellipse cx="1055.7" cy="1717.1" rx="8.1" ry="8.75"/>
<ellipse cx="589.7" cy="1716.7" rx="8.1" ry="8.75"/>
<ellipse cx="956.1" cy="1704.5" rx="8.1" ry="8.75"/>
<ellipse cx="974.7" cy="1704.5" rx="8.1" ry="8.75"/>
<ellipse cx="995.3" cy="1704.5" rx="8.1" ry="8.75"/>
<ellipse cx="589.7" cy="1701.7" rx="8.1" ry="8.75"/>
<ellipse cx="956.1" cy="1687.5" rx="8.1" ry="8.75"/>
<ellipse cx="974.7" cy="1687.5" rx="8.1" ry="8.75"/>
<ellipse cx="995.3" cy="1687.5" rx="8.1" ry="8.75"/>
<ellipse cx="925.7" cy="1665.2" rx="8.1" ry="8.75"/>
<ellipse cx="944.3" cy="1665.2" rx="8.1" ry="8.75"/>
<ellipse cx="965.0" cy="1665.2" rx="8.1" ry="8.75"/>
<ellipse cx="983.8" cy="1663.0" rx="8.1" ry="8.75"/>
<ellipse cx="1004.7" cy="1663.0" rx="8.1" ry="8.75"/>
<ellipse cx="1025.5" cy="1663.0" rx="8.1" ry="8.75"/>
<ellipse cx="956.1" cy="1650.2" rx="8.1" ry="8.75"/>
<ellipse cx="974.7" cy="1650.2" rx="8.1" ry="8.75"/>
<ellipse cx="995.3" cy="1650.2" rx="8.1" ry="8.75"/>
<ellipse cx="925.7" cy="1635.7" rx="8.1" ry="8.75"/>
<ellipse cx="944.3" cy="1635.7" rx="8.1" ry="8.75"/>
<ellipse cx="965.0" cy="1635.7" rx="8.1" ry="8.75"/>
<ellipse cx="983.8" cy="1623.5" rx="8.1" ry="8.75"/>
<ellipse cx="1004.7" cy="1623.5" rx="8.1" ry="8.75"/>
<ellipse cx="1025.5" cy="1623.5" rx="8.1" ry="8.75"/>
<ellipse cx="589.4" cy="1586.7" rx="8.1" ry="8.75"/>
<ellipse cx="956.1" cy="1567.1" rx="8.1" ry="8.75"/>
<ellipse cx="974.7" cy="1567.1" rx="8.1" ry="8.75"/>
<ellipse cx="995.3" cy="1567.1" rx="8.1" ry="8.75"/>
<ellipse cx="956.1" cy="1535.0" rx="8.1" ry="8.75"/>
<ellipse cx="974.7" cy="1535.0" rx="8.1" ry="8.75"/>
<ellipse cx="995.3" cy="1535.0" rx="8.1" ry="8.75"/>
<ellipse cx="956.1" cy="1522.8" rx="8.1" ry="8.75"/>
<ellipse cx="974.7" cy="1522.8" rx="8.1" ry="8.75"/>
<ellipse cx="995.3" cy="1522.8" rx="8.1" ry="8.75"/>
<ellipse cx="956.1" cy="1510.3" rx="8.1" ry="8.75"/>
<ellipse cx="974.7" cy="1510.3" rx="8.1" ry="8.75"/>
<ellipse cx="995.3" cy="1510.3" rx="8.1" ry="8.75"/>
<ellipse cx="895.6" cy="1488.0" rx="8.1" ry="8.75"/>
<ellipse cx="914.2" cy="1488.0" rx="8.1" ry="8.75"/>
<ellipse cx="934.9" cy="1488.0" rx="8.1" ry="8.75"/>
<ellipse cx="953.7" cy="1483.2" rx="8.1" ry="8.75"/>
<ellipse cx="974.7" cy="1483.2" rx="8.1" ry="8.75"/>
<ellipse cx="995.3" cy="1483.2" rx="8.1" ry="8.75"/>
<ellipse cx="1014.0" cy="1483.2" rx="8.1" ry="8.75"/>
<ellipse cx="1034.8" cy="1483.2" rx="8.1" ry="8.75"/>
<ellipse cx="1055.7" cy="1483.2" rx="8.1" ry="8.75"/>
<ellipse cx="925.7" cy="1461.1" rx="8.1" ry="8.75"/>
<ellipse cx="944.3" cy="1461.1" rx="8.1" ry="8.75"/>
<ellipse cx="965.0" cy="1461.1" rx="8.1" ry="8.75"/>
<ellipse cx="983.8" cy="1461.1" rx="8.1" ry="8.75"/>
<ellipse cx="1004.7" cy="1461.1" rx="8.1" ry="8.75"/>
<ellipse cx="1025.5" cy="1461.1" rx="8.1" ry="8.75"/>
<ellipse cx="956.1" cy="1451.3" rx="8.1" ry="8.75"/>
<ellipse cx="974.7" cy="1451.3" rx="8.1" ry="8.75"/>
<ellipse cx="995.3" cy="1451.3" rx="8.1" ry="8.75"/>
<ellipse cx="956.1" cy="1409.2" rx="8.1" ry="8.75"/>
<ellipse cx="974.7" cy="1409.2" rx="8.1" ry="8.75"/>
<ellipse cx="995.3" cy="1409.2" rx="8.1" ry="8.75"/>
<ellipse cx="956.1" cy="1387.1" rx="8.1" ry="8.75"/>
<ellipse cx="974.7" cy="1387.1" rx="8.1" ry="8.75"/>
<ellipse cx="995.3" cy="1387.1" rx="8.1" ry="8.75"/>
</g>
<path d="M312.6 2087.8h12.5M312.6 1986.4h12.5M312.6 1885.3h12.5M312.6 1787.2h12.5M312.6 1686.2h12.5M312.6 1587.3h12.5M312.6 1486.9h12.5M312.6 1385.6h12.5" stroke="#444444" stroke-width="2.2" stroke-linecap="round" fill="none"/>
<path d="M312.6 2136.9h22M312.6 2036.0h22M312.6 1937.5h22M312.6 1836.4h22M312.6 1735.4h22M312.6 1636.9h22M312.6 1535.9h22M312.6 1437.5h22M312.6 1336.3h22M590.6 2161.3V2139.3M975.7 2161.3V2139.3" stroke="#444444" stroke-width="4.2" stroke-linecap="round" fill="none"/>
<path d="M312.6 1312.7V2161.3H1253.1" stroke="#000" stroke-width="4.7" stroke-linecap="round" stroke-linejoin="miter" fill="none"/>
<path d="M339.2 1824.2H1230.2" stroke="#004C99" stroke-width="5" stroke-linecap="round" fill="none"/>
<text transform="translate(297.8 2149.5) scale(1.0000 1.0850)" font-size="42.0" text-anchor="end" font-family="Liberation Sans, sans-serif">0</text>
<text transform="translate(297.8 2048.6) scale(1.0000 1.0850)" font-size="42.0" text-anchor="end" font-family="Liberation Sans, sans-serif">20</text>
<text transform="translate(297.8 1950.1) scale(1.0000 1.0850)" font-size="42.0" text-anchor="end" font-family="Liberation Sans, sans-serif">40</text>
<text transform="translate(297.8 1849.0) scale(1.0000 1.0850)" font-size="42.0" text-anchor="end" font-family="Liberation Sans, sans-serif">60</text>
<text transform="translate(297.8 1748.0) scale(1.0000 1.0850)" font-size="42.0" text-anchor="end" font-family="Liberation Sans, sans-serif">80</text>
<text transform="translate(297.8 1649.5) scale(1.0000 1.0850)" font-size="42.0" text-anchor="end" font-family="Liberation Sans, sans-serif">100</text>
<text transform="translate(297.8 1548.5) scale(1.0000 1.0850)" font-size="42.0" text-anchor="end" font-family="Liberation Sans, sans-serif">120</text>
<text transform="translate(297.8 1450.1) scale(1.0000 1.0850)" font-size="42.0" text-anchor="end" font-family="Liberation Sans, sans-serif">140</text>
<text transform="translate(297.8 1348.9) scale(1.0000 1.0850)" font-size="42.0" text-anchor="end" font-family="Liberation Sans, sans-serif">160</text>
<text transform="translate(590.6 2212.4) scale(1.0000 1.0850)" font-size="42.0" text-anchor="middle" font-family="Liberation Sans, sans-serif">0</text>
<text transform="translate(975.7 2212.4) scale(1.0000 1.0850)" font-size="42.0" text-anchor="middle" font-family="Liberation Sans, sans-serif">1</text>
<text transform="translate(783.2 2280.7) scale(0.9850 1.0850)" font-size="42.0" text-anchor="middle" font-family="Liberation Sans, sans-serif">group</text>
<text transform="translate(784.8 1285.1) scale(0.9554 1.0850)" font-size="42.0" text-anchor="middle" font-family="Liberation Sans, sans-serif">max</text>
<text transform="translate(1269.6 1825.7) scale(1.0000 1.0850)" font-size="42.0" text-anchor="start" font-family="Liberation Sans, sans-serif">&gt;62.359</text>
<text transform="translate(1269.6 1880.2) scale(1.0000 1.0850)" font-size="42.0" text-anchor="start" font-family="Liberation Sans, sans-serif">Sens: 96.6</text>
<text transform="translate(1269.6 1934.8) scale(1.0000 1.0850)" font-size="42.0" text-anchor="start" font-family="Liberation Sans, sans-serif">Spec: 45.0</text>
<path d="M1690.0 2136.9H2570.0M1690.0 2036.0H2570.0M1690.0 1937.5H2570.0M1690.0 1836.4H2570.0M1690.0 1735.4H2570.0M1690.0 1636.9H2570.0M1690.0 1535.9H2570.0M1690.0 1437.5H2570.0M1690.0 1336.3H2570.0M1928.9 1336.3V2136.9M2306.6 1336.3V2136.9" stroke="#e0e0e0" stroke-width="0.95" stroke-dasharray="3.8 8.5" fill="none"/>
<g fill="#fff" stroke="#FF6600" stroke-width="2.7">
<ellipse cx="1927.4" cy="2071.3" rx="7.95" ry="8.75"/>
<ellipse cx="1927.4" cy="2012.4" rx="7.95" ry="8.75"/>
<ellipse cx="1918.4" cy="1963.6" rx="7.95" ry="8.75"/>
<ellipse cx="1936.6" cy="1953.6" rx="7.95" ry="8.75"/>
<ellipse cx="1918.4" cy="1938.6" rx="7.95" ry="8.75"/>
<ellipse cx="1936.6" cy="1928.8" rx="7.95" ry="8.75"/>
<ellipse cx="1900.1" cy="1926.1" rx="7.95" ry="8.75"/>
<ellipse cx="1918.4" cy="1923.5" rx="7.95" ry="8.75"/>
<ellipse cx="1938.9" cy="1921.0" rx="7.95" ry="8.75"/>
<ellipse cx="1957.2" cy="1916.5" rx="7.95" ry="8.75"/>
<ellipse cx="1927.7" cy="1908.7" rx="7.95" ry="8.75"/>
<ellipse cx="1909.3" cy="1892.4" rx="7.95" ry="8.75"/>
<ellipse cx="1927.7" cy="1887.4" rx="7.95" ry="8.75"/>
<ellipse cx="1947.9" cy="1884.6" rx="7.95" ry="8.75"/>
<ellipse cx="1900.1" cy="1879.8" rx="7.95" ry="8.75"/>
<ellipse cx="1918.4" cy="1877.6" rx="7.95" ry="8.75"/>
<ellipse cx="1938.9" cy="1872.3" rx="7.95" ry="8.75"/>
<ellipse cx="1957.2" cy="1869.8" rx="7.95" ry="8.75"/>
<ellipse cx="1888.7" cy="1867.9" rx="7.95" ry="8.75"/>
<ellipse cx="1927.7" cy="1867.3" rx="7.95" ry="8.75"/>
<ellipse cx="1907.3" cy="1867.3" rx="7.95" ry="8.75"/>
<ellipse cx="1966.4" cy="1857.9" rx="7.95" ry="8.75"/>
<ellipse cx="1945.7" cy="1857.9" rx="7.95" ry="8.75"/>
<ellipse cx="1879.9" cy="1854.9" rx="7.95" ry="8.75"/>
<ellipse cx="1918.4" cy="1852.5" rx="7.95" ry="8.75"/>
<ellipse cx="1898.2" cy="1852.5" rx="7.95" ry="8.75"/>
<ellipse cx="1957.2" cy="1847.8" rx="7.95" ry="8.75"/>
<ellipse cx="1936.6" cy="1847.5" rx="7.95" ry="8.75"/>
<ellipse cx="1977.7" cy="1845.4" rx="7.95" ry="8.75"/>
<ellipse cx="1879.9" cy="1840.1" rx="7.95" ry="8.75"/>
<ellipse cx="1898.2" cy="1838.1" rx="7.95" ry="8.75"/>
<ellipse cx="1918.4" cy="1837.6" rx="7.95" ry="8.75"/>
<ellipse cx="1936.6" cy="1837.3" rx="7.95" ry="8.75"/>
<ellipse cx="1957.2" cy="1835.4" rx="7.95" ry="8.75"/>
<ellipse cx="2257.2" cy="1827.8" rx="7.95" ry="8.75"/>
<ellipse cx="2275.5" cy="1827.8" rx="7.95" ry="8.75"/>
<ellipse cx="2295.8" cy="1827.8" rx="7.95" ry="8.75"/>
<ellipse cx="1888.7" cy="1827.5" rx="7.95" ry="8.75"/>
<ellipse cx="1977.7" cy="1827.5" rx="7.95" ry="8.75"/>
<ellipse cx="2314.2" cy="1823.0" rx="7.95" ry="8.75"/>
<ellipse cx="2334.8" cy="1823.0" rx="7.95" ry="8.75"/>
<ellipse cx="2355.2" cy="1823.0" rx="7.95" ry="8.75"/>
<ellipse cx="1907.3" cy="1822.5" rx="7.95" ry="8.75"/>
<ellipse cx="1927.7" cy="1820.5" rx="7.95" ry="8.75"/>
<ellipse cx="1945.7" cy="1819.7" rx="7.95" ry="8.75"/>
<ellipse cx="1918.4" cy="1815.3" rx="7.95" ry="8.75"/>
<ellipse cx="1966.4" cy="1815.3" rx="7.95" ry="8.75"/>
<ellipse cx="1936.6" cy="1810.8" rx="7.95" ry="8.75"/>
<ellipse cx="1888.7" cy="1803.6" rx="7.95" ry="8.75"/>
<ellipse cx="2287.0" cy="1803.3" rx="7.95" ry="8.75"/>
<ellipse cx="2305.3" cy="1803.3" rx="7.95" ry="8.75"/>
<ellipse cx="2325.5" cy="1803.3" rx="7.95" ry="8.75"/>
<ellipse cx="1907.3" cy="1801.1" rx="7.95" ry="8.75"/>
<ellipse cx="1927.7" cy="1798.6" rx="7.95" ry="8.75"/>
<ellipse cx="1945.7" cy="1793.5" rx="7.95" ry="8.75"/>
<ellipse cx="1966.4" cy="1791.3" rx="7.95" ry="8.75"/>
<ellipse cx="1888.7" cy="1788.5" rx="7.95" ry="8.75"/>
<ellipse cx="1868.2" cy="1788.5" rx="7.95" ry="8.75"/>
<ellipse cx="1850.2" cy="1788.5" rx="7.95" ry="8.75"/>
<ellipse cx="1907.3" cy="1786.3" rx="7.95" ry="8.75"/>
<ellipse cx="1947.9" cy="1783.5" rx="7.95" ry="8.75"/>
<ellipse cx="1927.7" cy="1783.5" rx="7.95" ry="8.75"/>
<ellipse cx="2257.2" cy="1783.5" rx="7.95" ry="8.75"/>
<ellipse cx="2275.5" cy="1783.5" rx="7.95" ry="8.75"/>
<ellipse cx="2295.8" cy="1783.5" rx="7.95" ry="8.75"/>
<ellipse cx="1966.4" cy="1781.3" rx="7.95" ry="8.75"/>
<ellipse cx="1987.0" cy="1778.5" rx="7.95" ry="8.75"/>
<ellipse cx="2007.2" cy="1778.5" rx="7.95" ry="8.75"/>
<ellipse cx="2314.2" cy="1778.5" rx="7.95" ry="8.75"/>
<ellipse cx="2334.8" cy="1778.5" rx="7.95" ry="8.75"/>
<ellipse cx="2355.2" cy="1778.5" rx="7.95" ry="8.75"/>
<ellipse cx="1927.7" cy="1776.3" rx="7.95" ry="8.75"/>
<ellipse cx="1907.3" cy="1776.3" rx="7.95" ry="8.75"/>
<ellipse cx="1888.7" cy="1776.3" rx="7.95" ry="8.75"/>
<ellipse cx="1945.7" cy="1768.7" rx="7.95" ry="8.75"/>
<ellipse cx="1966.4" cy="1768.7" rx="7.95" ry="8.75"/>
<ellipse cx="1909.3" cy="1761.3" rx="7.95" ry="8.75"/>
<ellipse cx="1888.7" cy="1761.3" rx="7.95" ry="8.75"/>
<ellipse cx="1870.7" cy="1761.3" rx="7.95" ry="8.75"/>
<ellipse cx="1927.7" cy="1759.0" rx="7.95" ry="8.75"/>
<ellipse cx="1968.4" cy="1756.3" rx="7.95" ry="8.75"/>
<ellipse cx="1947.9" cy="1756.3" rx="7.95" ry="8.75"/>
<ellipse cx="1987.0" cy="1753.8" rx="7.95" ry="8.75"/>
<ellipse cx="2257.2" cy="1751.6" rx="7.95" ry="8.75"/>
<ellipse cx="2275.5" cy="1751.6" rx="7.95" ry="8.75"/>
<ellipse cx="2295.8" cy="1751.6" rx="7.95" ry="8.75"/>
<ellipse cx="1888.7" cy="1751.2" rx="7.95" ry="8.75"/>
<ellipse cx="1927.7" cy="1746.6" rx="7.95" ry="8.75"/>
<ellipse cx="1907.3" cy="1746.6" rx="7.95" ry="8.75"/>
<ellipse cx="1945.7" cy="1744.0" rx="7.95" ry="8.75"/>
<ellipse cx="2314.2" cy="1741.8" rx="7.95" ry="8.75"/>
<ellipse cx="2334.8" cy="1741.8" rx="7.95" ry="8.75"/>
<ellipse cx="2355.2" cy="1741.8" rx="7.95" ry="8.75"/>
<ellipse cx="1966.4" cy="1741.6" rx="7.95" ry="8.75"/>
<ellipse cx="1900.1" cy="1734.0" rx="7.95" ry="8.75"/>
<ellipse cx="1918.4" cy="1731.5" rx="7.95" ry="8.75"/>
<ellipse cx="1938.9" cy="1726.8" rx="7.95" ry="8.75"/>
<ellipse cx="1957.2" cy="1724.3" rx="7.95" ry="8.75"/>
<ellipse cx="2227.8" cy="1719.5" rx="7.95" ry="8.75"/>
<ellipse cx="2246.0" cy="1719.5" rx="7.95" ry="8.75"/>
<ellipse cx="2266.3" cy="1719.5" rx="7.95" ry="8.75"/>
<ellipse cx="2284.8" cy="1717.1" rx="7.95" ry="8.75"/>
<ellipse cx="2305.3" cy="1717.1" rx="7.95" ry="8.75"/>
<ellipse cx="2325.5" cy="1717.1" rx="7.95" ry="8.75"/>
<ellipse cx="2343.8" cy="1717.1" rx="7.95" ry="8.75"/>
<ellipse cx="2364.2" cy="1717.1" rx="7.95" ry="8.75"/>
<ellipse cx="2384.8" cy="1717.1" rx="7.95" ry="8.75"/>
<ellipse cx="1927.7" cy="1716.7" rx="7.95" ry="8.75"/>
<ellipse cx="2287.0" cy="1704.5" rx="7.95" ry="8.75"/>
<ellipse cx="2305.3" cy="1704.5" rx="7.95" ry="8.75"/>
<ellipse cx="2325.5" cy="1704.5" rx="7.95" ry="8.75"/>
<ellipse cx="1927.7" cy="1701.7" rx="7.95" ry="8.75"/>
<ellipse cx="2287.0" cy="1687.5" rx="7.95" ry="8.75"/>
<ellipse cx="2305.3" cy="1687.5" rx="7.95" ry="8.75"/>
<ellipse cx="2325.5" cy="1687.5" rx="7.95" ry="8.75"/>
<ellipse cx="2257.2" cy="1665.2" rx="7.95" ry="8.75"/>
<ellipse cx="2275.5" cy="1665.2" rx="7.95" ry="8.75"/>
<ellipse cx="2295.8" cy="1665.2" rx="7.95" ry="8.75"/>
<ellipse cx="2314.2" cy="1663.0" rx="7.95" ry="8.75"/>
<ellipse cx="2334.8" cy="1663.0" rx="7.95" ry="8.75"/>
<ellipse cx="2355.2" cy="1663.0" rx="7.95" ry="8.75"/>
<ellipse cx="2287.0" cy="1650.2" rx="7.95" ry="8.75"/>
<ellipse cx="2305.3" cy="1650.2" rx="7.95" ry="8.75"/>
<ellipse cx="2325.5" cy="1650.2" rx="7.95" ry="8.75"/>
<ellipse cx="2257.2" cy="1635.7" rx="7.95" ry="8.75"/>
<ellipse cx="2275.5" cy="1635.7" rx="7.95" ry="8.75"/>
<ellipse cx="2295.8" cy="1635.7" rx="7.95" ry="8.75"/>
<ellipse cx="2314.2" cy="1623.5" rx="7.95" ry="8.75"/>
<ellipse cx="2334.8" cy="1623.5" rx="7.95" ry="8.75"/>
<ellipse cx="2355.2" cy="1623.5" rx="7.95" ry="8.75"/>
<ellipse cx="1927.4" cy="1586.7" rx="7.95" ry="8.75"/>
<ellipse cx="2287.0" cy="1567.1" rx="7.95" ry="8.75"/>
<ellipse cx="2305.3" cy="1567.1" rx="7.95" ry="8.75"/>
<ellipse cx="2325.5" cy="1567.1" rx="7.95" ry="8.75"/>
<ellipse cx="2287.0" cy="1535.0" rx="7.95" ry="8.75"/>
<ellipse cx="2305.3" cy="1535.0" rx="7.95" ry="8.75"/>
<ellipse cx="2325.5" cy="1535.0" rx="7.95" ry="8.75"/>
<ellipse cx="2287.0" cy="1522.8" rx="7.95" ry="8.75"/>
<ellipse cx="2305.3" cy="1522.8" rx="7.95" ry="8.75"/>
<ellipse cx="2325.5" cy="1522.8" rx="7.95" ry="8.75"/>
<ellipse cx="2287.0" cy="1510.3" rx="7.95" ry="8.75"/>
<ellipse cx="2305.3" cy="1510.3" rx="7.95" ry="8.75"/>
<ellipse cx="2325.5" cy="1510.3" rx="7.95" ry="8.75"/>
<ellipse cx="2227.8" cy="1488.0" rx="7.95" ry="8.75"/>
<ellipse cx="2246.0" cy="1488.0" rx="7.95" ry="8.75"/>
<ellipse cx="2266.3" cy="1488.0" rx="7.95" ry="8.75"/>
<ellipse cx="2284.8" cy="1483.2" rx="7.95" ry="8.75"/>
<ellipse cx="2305.3" cy="1483.2" rx="7.95" ry="8.75"/>
<ellipse cx="2325.5" cy="1483.2" rx="7.95" ry="8.75"/>
<ellipse cx="2343.8" cy="1483.2" rx="7.95" ry="8.75"/>
<ellipse cx="2364.2" cy="1483.2" rx="7.95" ry="8.75"/>
<ellipse cx="2384.8" cy="1483.2" rx="7.95" ry="8.75"/>
<ellipse cx="2257.2" cy="1461.1" rx="7.95" ry="8.75"/>
<ellipse cx="2275.5" cy="1461.1" rx="7.95" ry="8.75"/>
<ellipse cx="2295.8" cy="1461.1" rx="7.95" ry="8.75"/>
<ellipse cx="2314.2" cy="1461.1" rx="7.95" ry="8.75"/>
<ellipse cx="2334.8" cy="1461.1" rx="7.95" ry="8.75"/>
<ellipse cx="2355.2" cy="1461.1" rx="7.95" ry="8.75"/>
<ellipse cx="2287.0" cy="1451.3" rx="7.95" ry="8.75"/>
<ellipse cx="2305.3" cy="1451.3" rx="7.95" ry="8.75"/>
<ellipse cx="2325.5" cy="1451.3" rx="7.95" ry="8.75"/>
<ellipse cx="2287.0" cy="1409.2" rx="7.95" ry="8.75"/>
<ellipse cx="2305.3" cy="1409.2" rx="7.95" ry="8.75"/>
<ellipse cx="2325.5" cy="1409.2" rx="7.95" ry="8.75"/>
<ellipse cx="2287.0" cy="1387.1" rx="7.95" ry="8.75"/>
<ellipse cx="2305.3" cy="1387.1" rx="7.95" ry="8.75"/>
<ellipse cx="2325.5" cy="1387.1" rx="7.95" ry="8.75"/>
</g>
<path d="M1656.9 2087.8h12.5M1656.9 1986.4h12.5M1656.9 1885.3h12.5M1656.9 1787.2h12.5M1656.9 1686.2h12.5M1656.9 1587.3h12.5M1656.9 1486.9h12.5M1656.9 1385.6h12.5" stroke="#444444" stroke-width="2.2" stroke-linecap="round" fill="none"/>
<path d="M1656.9 2136.9h22M1656.9 2036.0h22M1656.9 1937.5h22M1656.9 1836.4h22M1656.9 1735.4h22M1656.9 1636.9h22M1656.9 1535.9h22M1656.9 1437.5h22M1656.9 1336.3h22M1928.6 2161.3V2139.3M2306.3 2161.3V2139.3" stroke="#444444" stroke-width="4.2" stroke-linecap="round" fill="none"/>
<path d="M1656.9 1312.7V2161.3H2577.5" stroke="#000" stroke-width="4.7" stroke-linecap="round" stroke-linejoin="miter" fill="none"/>
<path d="M1683.1 1794.5H2555.6" stroke="#004C99" stroke-width="5" stroke-linecap="round" fill="none"/>
<text transform="translate(1642.4 2149.5) scale(0.9680 1.0850)" font-size="42.3" text-anchor="end" font-family="Liberation Sans, sans-serif">0</text>
<text transform="translate(1642.4 2048.6) scale(0.9680 1.0850)" font-size="42.3" text-anchor="end" font-family="Liberation Sans, sans-serif">20</text>
<text transform="translate(1642.4 1950.1) scale(0.9680 1.0850)" font-size="42.3" text-anchor="end" font-family="Liberation Sans, sans-serif">40</text>
<text transform="translate(1642.4 1849.0) scale(0.9680 1.0850)" font-size="42.3" text-anchor="end" font-family="Liberation Sans, sans-serif">60</text>
<text transform="translate(1642.4 1748.0) scale(0.9680 1.0850)" font-size="42.3" text-anchor="end" font-family="Liberation Sans, sans-serif">80</text>
<text transform="translate(1642.4 1649.5) scale(0.9680 1.0850)" font-size="42.3" text-anchor="end" font-family="Liberation Sans, sans-serif">100</text>
<text transform="translate(1642.4 1548.5) scale(0.9680 1.0850)" font-size="42.3" text-anchor="end" font-family="Liberation Sans, sans-serif">120</text>
<text transform="translate(1642.4 1450.1) scale(0.9680 1.0850)" font-size="42.3" text-anchor="end" font-family="Liberation Sans, sans-serif">140</text>
<text transform="translate(1642.4 1348.9) scale(0.9680 1.0850)" font-size="42.3" text-anchor="end" font-family="Liberation Sans, sans-serif">160</text>
<text transform="translate(1928.6 2212.4) scale(0.9680 1.0850)" font-size="42.3" text-anchor="middle" font-family="Liberation Sans, sans-serif">0</text>
<text transform="translate(2306.3 2212.4) scale(0.9680 1.0850)" font-size="42.3" text-anchor="middle" font-family="Liberation Sans, sans-serif">1</text>
<text transform="translate(2117.6 2280.7) scale(0.9680 1.0850)" font-size="42.3" text-anchor="middle" font-family="Liberation Sans, sans-serif">group</text>
<text transform="translate(2119.2 1285.1) scale(0.9438 1.0850)" font-size="42.3" text-anchor="middle" font-family="Liberation Sans, sans-serif">max</text>
<text transform="translate(2595.6 1796.1) scale(0.9680 1.0850)" font-size="42.3" text-anchor="start" font-family="Liberation Sans, sans-serif">&gt;68.6496</text>
<text transform="translate(2595.6 1850.2) scale(0.9680 1.0850)" font-size="42.3" text-anchor="start" font-family="Liberation Sans, sans-serif">Sens: 89.7</text>
<text transform="translate(2595.6 1905.2) scale(0.9680 1.0850)" font-size="42.3" text-anchor="start" font-family="Liberation Sans, sans-serif">Spec: 57.5</text>
<text transform="translate(77.0 197.0) scale(0.9750 1.0220)" font-size="126" text-anchor="start" font-family="Liberation Serif, sans-serif">A</text>
<text transform="translate(73.5 1387.7) scale(1.0000 1.0000)" font-size="126" text-anchor="start" font-family="Liberation Serif, sans-serif">B</text>
</svg>
</body></html>
